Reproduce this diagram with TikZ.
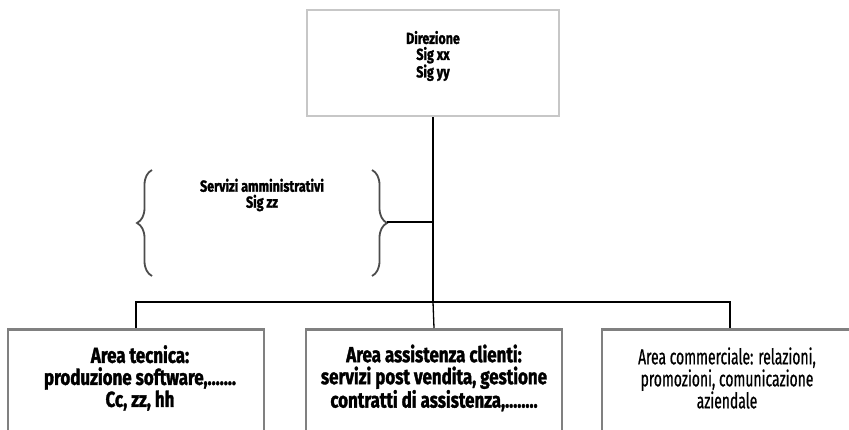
\documentclass[tikz,border=0pt]{standalone}
\usepackage{fontspec}
\setmainfont{Fira Sans}[FakeStretch=0.78, BoldFeatures={FakeBold=1.5}]
\newfontfamily\condreg{Fira Sans}[FakeStretch=0.64, FakeBold=0.7]
\usetikzlibrary{decorations.pathreplacing}
\tikzset{
  topbox/.style={draw=black!22, line width=2.5pt, minimum width=252pt, minimum height=106pt, inner sep=0pt},
  areabox/.style={draw=black!50, line width=2.5pt, minimum width=256pt, minimum height=140pt, inner sep=0pt},
  conn/.style={draw=black, line width=1.3pt},
  bracestyle/.style={draw=black!70, line width=1.8pt, decorate, decoration={brace, amplitude=15pt}},
  smalltxt/.style={align=center, font=\bfseries\fontsize{16}{16}\selectfont},
  bigtxt/.style={align=center, font=\bfseries\fontsize{21.7}{22}\selectfont},
  bigreg/.style={align=center, font=\condreg\fontsize{21.7}{22}\selectfont},
}
\begin{document}
\begin{tikzpicture}[x=1pt,y=1pt]
\useasboundingbox (0,0) rectangle (849,429);
\clip (0,0) rectangle (849,429);
% top box
\node[topbox] (dir) at (433,366) {};
\node[smalltxt] (dirtxt) at (433,373) {Direzione\\Sig xx\\Sig yy};
% bottom boxes (cut off at the bottom)
\node[areabox, anchor=north] (tec) at (136,101) {};
\node[areabox, anchor=north] (ass) at (434,101) {};
\node[areabox, anchor=north] (com) at (730,101) {};
\node[bigtxt] (tectxt) at (140,51) {Area tecnica:\\produzione software,.......\\Cc, zz, hh};
\node[bigtxt] (asstxt) at (434,51) {Area assistenza clienti:\\servizi post vendita, gestione\\contratti di assistenza,........};
\node[bigreg] (comtxt) at (727,51) {Area commerciale: relazioni,\\promozioni, comunicazione\\aziendale};
% connectors
\coordinate (bus) at (433,127);
\draw[conn] (dir.south) -- (bus);
\draw[conn] (tec.north) |- (bus) -| (com.north);
\draw[conn] (bus) -- (ass.north);
% braces
\coordinate (lb1) at (152,153);
\coordinate (lb2) at (152,259);
\coordinate (rb1) at (372,259);
\coordinate (rb2) at (372,153);
\draw[bracestyle] (lb1) -- (lb2);
\draw[bracestyle] (rb1) -- (rb2);
\coordinate (rtip) at (387,207);
\coordinate (rjoin) at (433,207);
\draw[conn] (rtip) -- (rjoin);
\node[smalltxt] (serv) at (262,234) {Servizi amministrativi\\Sig zz};
\end{tikzpicture}
\end{document}
